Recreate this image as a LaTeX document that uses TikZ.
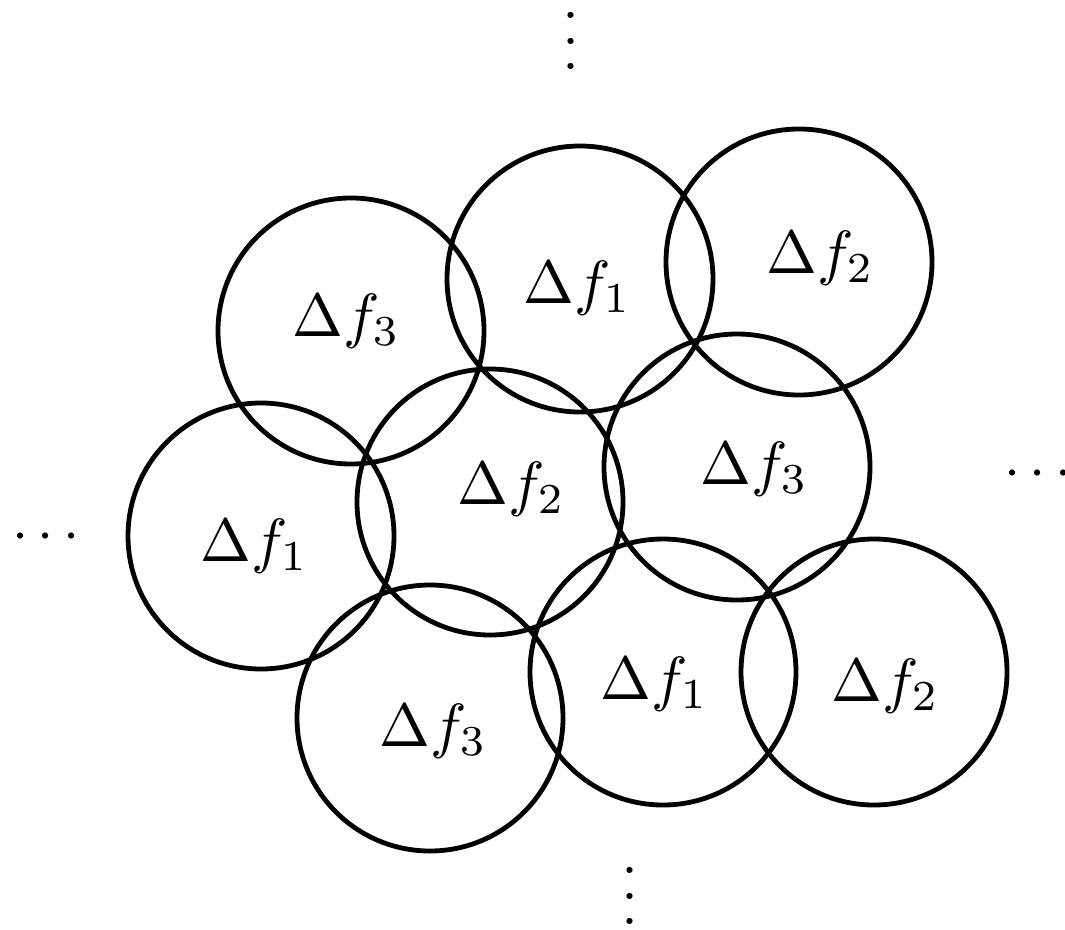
\documentclass[tikz,border=0pt]{standalone}
\begin{document}
\begin{tikzpicture}[x=1pt,y=-1pt,
  ring/.style={circle,draw,line width=4.8pt,minimum size=266pt,inner sep=0pt},
  lab/.style={anchor=base west,inner sep=0pt,scale=6.1},
  dotsh/.style={anchor=base,inner sep=0pt,scale=5.8},
  dotsv/.style={anchor=base,inner sep=0pt,rotate=90,scale=5.8}]
\useasboundingbox (0,0) rectangle (1065,929);
\node[ring] (c1) at (351,331) {};
\node[ring] (c2) at (580,279) {};
\node[ring] (c3) at (799,262) {};
\node[ring] (c4) at (261,536) {};
\node[ring] (c5) at (490,502) {};
\node[ring] (c6) at (737,467) {};
\node[ring] (c7) at (430,718) {};
\node[ring] (c8) at (663,672) {};
\node[ring] (c9) at (874,672) {};
\node[lab] (l1) at (291,336) {$\Delta f_3$};
\node[lab] (l2) at (522,303) {$\Delta f_1$};
\node[lab] (l3) at (765,273) {$\Delta f_2$};
\node[lab] (l4) at (199,561) {$\Delta f_1$};
\node[lab] (l5) at (456,504) {$\Delta f_2$};
\node[lab] (l6) at (699,484) {$\Delta f_3$};
\node[lab] (l7) at (378,746) {$\Delta f_3$};
\node[lab] (l8) at (599,699) {$\Delta f_1$};
\node[lab] (l9) at (830,701) {$\Delta f_2$};
\node[dotsh] (dl) at (46,550.5) {$\cdots$};
\node[dotsh] (dr) at (1038,487.5) {$\cdots$};
\node[dotsv] (dt) at (585.5,41) {$\cdots$};
\node[dotsv] (db) at (644.5,896) {$\cdots$};
\end{tikzpicture}
\end{document}
